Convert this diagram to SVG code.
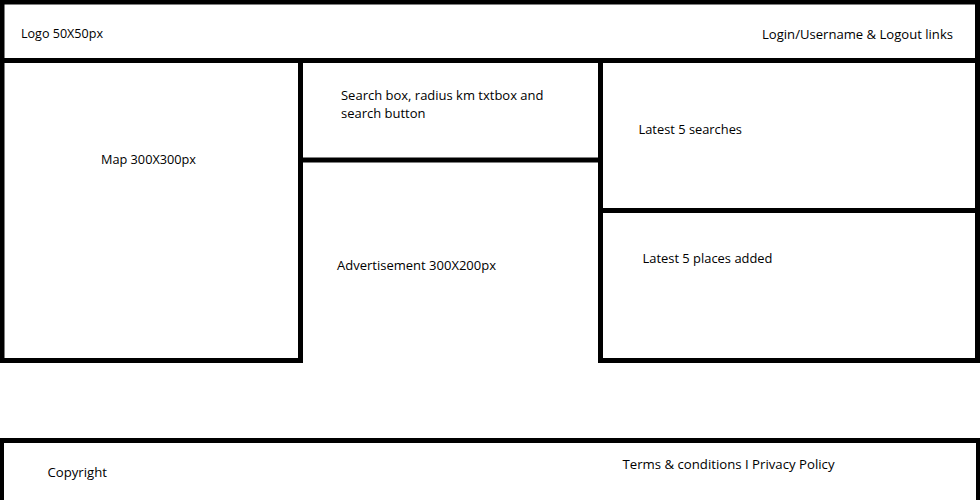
<svg xmlns="http://www.w3.org/2000/svg" width="980" height="500" viewBox="0 0 980 500">
<style>
.box{fill:none;stroke:#000;stroke-width:5}
.ln{stroke:#000;stroke-width:5;fill:none}
text{font-family:"Open Sans","Noto Sans","Liberation Sans",sans-serif;font-size:13.5px;fill:#000}
</style>
<rect x="0" y="0" width="980" height="500" fill="#fff"/>
<g id="header">
<rect class="box" x="2" y="2" width="975.5" height="58.5"/>
<text x="21" y="37.5" textLength="82" lengthAdjust="spacingAndGlyphs">Logo 50X50px</text>
<text x="762" y="38.5" textLength="191" lengthAdjust="spacingAndGlyphs">Login/Username &amp; Logout links</text>
</g>
<g id="map">
<rect class="box" x="2" y="60.5" width="298.5" height="300"/>
<text x="101" y="164" textLength="95" lengthAdjust="spacingAndGlyphs">Map 300X300px</text>
</g>
<g id="search">
<rect class="box" x="300.5" y="60.5" width="300" height="99.5"/>
<text x="341" y="100" textLength="202.5" lengthAdjust="spacingAndGlyphs">Search box, radius km txtbox and</text>
<text x="341" y="117.7" textLength="84.5" lengthAdjust="spacingAndGlyphs">search button</text>
</g>
<g id="advertisement">
<path class="ln" d="M300.5 160 V360.5 M600.5 160 V360.5"/>
<text x="337" y="269.5" textLength="159" lengthAdjust="spacingAndGlyphs">Advertisement 300X200px</text>
</g>
<g id="latest-searches">
<rect class="box" x="600.5" y="60.5" width="377" height="150"/>
<text x="638.5" y="134.3" textLength="103.5" lengthAdjust="spacingAndGlyphs">Latest 5 searches</text>
</g>
<g id="latest-places">
<rect class="box" x="600.5" y="210.5" width="377" height="150"/>
<text x="642.5" y="263.3" textLength="130" lengthAdjust="spacingAndGlyphs">Latest 5 places added</text>
</g>
<g id="footer">
<rect class="box" x="1.5" y="440.5" width="977" height="62"/>
<text x="47.5" y="477.3" textLength="59.5" lengthAdjust="spacingAndGlyphs">Copyright</text>
<text x="622.5" y="469.3" textLength="212" lengthAdjust="spacingAndGlyphs">Terms &amp; conditions I Privacy Policy</text>
</g>
<g id="connectors"></g>
</svg>
